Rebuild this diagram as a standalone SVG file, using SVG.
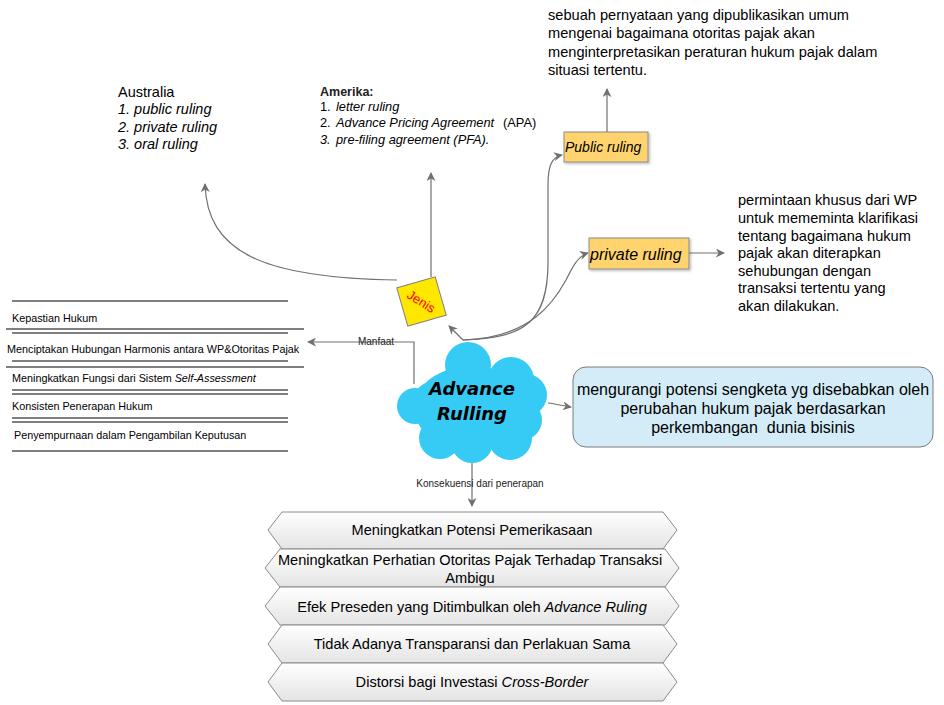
<svg xmlns="http://www.w3.org/2000/svg" width="944" height="705" viewBox="0 0 944 705">
<defs>
<marker id="arr" viewBox="0 0 10 10" refX="9" refY="5" markerWidth="9" markerHeight="9" markerUnits="userSpaceOnUse" orient="auto">
<path d="M0,0 L10,5 L0,10 L3,5 z" fill="#707070"/>
</marker>
<linearGradient id="gb" x1="0" y1="0" x2="0" y2="1">
<stop offset="0" stop-color="#FFFFFF"/>
<stop offset="1" stop-color="#E4E4E4"/>
</linearGradient>
<filter id="sh" x="-10%" y="-10%" width="130%" height="140%">
<feDropShadow dx="1.5" dy="1.5" stdDeviation="1" flood-color="#000" flood-opacity="0.25"/>
</filter>
</defs>
<style>
text{font-family:"Liberation Sans",Arial,sans-serif;fill:#000}
.con{fill:none;stroke:#707070;stroke-width:1.2;marker-end:url(#arr)}
.ln{stroke:#000;stroke-width:1}
.li{font-size:10.8px}
.lbl{font-size:10px;fill:#222}
.chev{fill:url(#gb);stroke:#8A8A8A;stroke-width:1}
.ct{font-size:14.6px;text-anchor:middle}
.desc{font-size:14.6px}
.orng{fill:#FFD36E;stroke:#8A8A8A;stroke-width:1;filter:url(#sh)}
</style>
<rect width="944" height="705" fill="#FFFFFF"/>

<g id="connectors">
<path class="con" d="M414,384 L414,342 L308,342"/>
<path class="con" d="M472,463 L472,506"/>
<path class="con" d="M548,403 C556,404 564,406 571,407"/>
<path class="con" d="M463,340 L449,326"/>
<path class="con" d="M463,340 C525,338 548,322 548,262 L548,185 C548,165 552,157 562,155"/>
<path class="con" d="M463,340 C532,338 555,300 566,280 C573,266 578,256 588,253"/>
<path class="con" d="M431,277 L431,173"/>
<path class="con" d="M397,280 C262,278 207,252 205,184"/>
<path class="con" d="M607,132 L607,89"/>
<path class="con" d="M689,253 L724,253"/>
<text class="lbl" x="376" y="345" text-anchor="middle">Manfaat</text>
<text class="lbl" x="480" y="487" text-anchor="middle">Konsekuensi dari penerapan</text>
</g>

<g id="cloud">
<g fill="#35CBF5">
<ellipse cx="472" cy="408" rx="58" ry="42"/>
<circle cx="468" cy="365" r="23"/>
<circle cx="511" cy="380" r="23"/>
<circle cx="526" cy="395" r="21"/>
<circle cx="432" cy="400" r="18"/>
<circle cx="415" cy="406" r="18"/>
<circle cx="440" cy="438" r="21"/>
<circle cx="472" cy="442" r="21"/>
<circle cx="510" cy="438" r="22"/>
<circle cx="522" cy="420" r="20"/>
</g>
<text x="472" y="395" text-anchor="middle" style="font-family:'DejaVu Sans',Verdana,sans-serif;font-size:18px;font-weight:bold;font-style:italic">Advance</text>
<text x="472" y="420" text-anchor="middle" style="font-family:'DejaVu Sans',Verdana,sans-serif;font-size:18px;font-weight:bold;font-style:italic">Rulling</text>
</g>

<g id="jenis">
<rect x="401.5" y="281.5" width="40" height="40" fill="#FFE800" stroke="#808080" stroke-width="1" transform="rotate(-16 421.5 301.5)"/>
<text x="421" y="306" text-anchor="middle" transform="rotate(32 421 302)" style="font-size:13px;fill:#FF0000">Jenis</text>
</g>

<g id="australia">
<text x="118" y="97" style="font-size:14.5px">Australia</text>
<text x="118" y="114" style="font-size:14.5px;font-style:italic">1. public ruling</text>
<text x="118" y="132" style="font-size:14.5px;font-style:italic">2. private ruling</text>
<text x="118" y="149" style="font-size:14.5px;font-style:italic">3. oral ruling</text>
</g>

<g id="amerika">
<text x="320" y="96" style="font-size:12.5px;font-weight:bold;fill:#222">Amerika:</text>
<text y="111" style="font-size:12.8px"><tspan x="320">1.</tspan><tspan x="336" font-style="italic">letter ruling</tspan></text>
<text y="127" style="font-size:12.8px"><tspan x="320">2.</tspan><tspan x="336" font-style="italic">Advance Pricing Agreement</tspan><tspan x="503">(APA)</tspan></text>
<text y="144" style="font-size:12.8px;font-style:italic"><tspan x="320">3.</tspan><tspan x="336">pre-filing agreement (PFA).</tspan></text>
</g>

<g id="public-ruling">
<rect class="orng" x="564" y="132" width="84" height="30"/>
<text x="565" y="152" style="font-size:14px;font-style:italic">Public ruling</text>
</g>

<g id="public-desc">
<text class="desc" x="548" y="20">sebuah pernyataan yang dipublikasikan umum</text>
<text class="desc" x="548" y="38">mengenai bagaimana otoritas pajak akan</text>
<text class="desc" x="548" y="57">menginterpretasikan peraturan hukum pajak dalam</text>
<text class="desc" x="548" y="75">situasi tertentu.</text>
</g>

<g id="private-ruling">
<rect class="orng" x="589" y="238" width="100" height="31"/>
<text x="590" y="260" style="font-size:16px;font-style:italic">private ruling</text>
</g>

<g id="private-desc">
<text class="desc" x="738" y="205">permintaan khusus dari WP</text>
<text class="desc" x="738" y="223">untuk mememinta klarifikasi</text>
<text class="desc" x="738" y="241">tentang bagaimana hukum</text>
<text class="desc" x="738" y="258">pajak akan diterapkan</text>
<text class="desc" x="738" y="276">sehubungan dengan</text>
<text class="desc" x="738" y="293">transaksi tertentu yang</text>
<text class="desc" x="738" y="311">akan dilakukan.</text>
</g>

<g id="tujuan">
<rect x="573" y="367" width="360" height="80" rx="13" ry="13" fill="#D3ECF7" stroke="#7A7A7A" stroke-width="1"/>
<text x="753" y="395" style="font-size:16px" text-anchor="middle">mengurangi potensi sengketa yg disebabkan oleh</text>
<text x="753" y="414" style="font-size:16px" text-anchor="middle">perubahan hukum pajak berdasarkan</text>
<text x="753" y="433" style="font-size:16px;white-space:pre" text-anchor="middle">perkembangan  dunia bisinis</text>
</g>

<g id="manfaat-list">
<line class="ln" x1="12" y1="301" x2="288" y2="301"/>
<text class="li" x="12" y="322">Kepastian Hukum</text>
<line class="ln" x1="6" y1="329" x2="304" y2="329"/>
<line class="ln" x1="12" y1="333" x2="288" y2="333"/>
<text class="li" x="7" y="353">Menciptakan Hubungan Harmonis antara WP&amp;Otoritas Pajak</text>
<line class="ln" x1="12" y1="361" x2="288" y2="361"/>
<line class="ln" x1="6" y1="367" x2="304" y2="367"/>
<text class="li" x="12" y="382">Meningkatkan Fungsi dari Sistem <tspan font-style="italic">Self-Assessment</tspan></text>
<line class="ln" x1="12" y1="390" x2="288" y2="390"/>
<line class="ln" x1="12" y1="394" x2="288" y2="394"/>
<text class="li" x="12" y="410">Konsisten Penerapan Hukum</text>
<line class="ln" x1="12" y1="418" x2="288" y2="418"/>
<line class="ln" x1="12" y1="422" x2="288" y2="422"/>
<text class="li" x="14" y="439">Penyempurnaan dalam Pengambilan Keputusan</text>
<line class="ln" x1="12" y1="451" x2="288" y2="451"/>
</g>

<g id="konsekuensi-1">
<path class="chev" d="M282,512 L663,512 L677,530 L663,549 L282,549 L268,530 Z"/>
<text class="ct" x="472" y="535">Meningkatkan Potensi Pemerikasaan</text>
</g>
<g id="konsekuensi-2">
<path class="chev" d="M280,549 L665,549 L679,568 L665,587 L280,587 L265,568 Z"/>
<text class="ct" x="470" y="565">Meningkatkan Perhatian Otoritas Pajak Terhadap Transaksi</text>
<text class="ct" x="470" y="583">Ambigu</text>
</g>
<g id="konsekuensi-3">
<path class="chev" d="M280,587 L665,587 L679,606 L665,625 L280,625 L265,606 Z"/>
<text class="ct" x="472" y="612">Efek Preseden yang Ditimbulkan oleh <tspan font-style="italic">Advance Ruling</tspan></text>
</g>
<g id="konsekuensi-4">
<path class="chev" d="M282,625 L663,625 L677,644 L663,663 L282,663 L268,644 Z"/>
<text class="ct" x="472" y="649">Tidak Adanya Transparansi dan Perlakuan Sama</text>
</g>
<g id="konsekuensi-5">
<path class="chev" d="M282,663 L663,663 L677,682 L663,701 L282,701 L268,682 Z"/>
<text class="ct" x="472" y="687">Distorsi bagi Investasi <tspan font-style="italic">Cross-Border</tspan></text>
</g>
</svg>
